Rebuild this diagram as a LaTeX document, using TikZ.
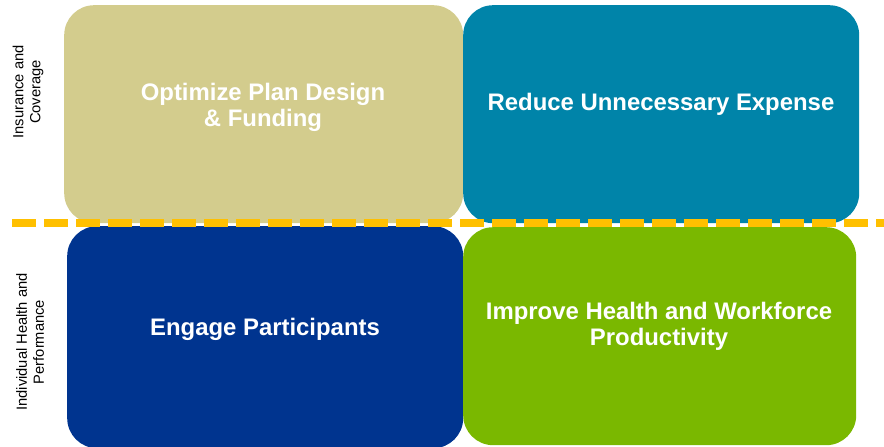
\documentclass[tikz,border=0pt]{standalone}
\usepackage{fontspec}
\setmainfont{Liberation Sans}
\definecolor{qtan}{HTML}{D3CC8D}
\definecolor{qteal}{HTML}{0084A9}
\definecolor{qblue}{HTML}{00348F}
\definecolor{qgreen}{HTML}{7AB800}
\definecolor{qdash}{HTML}{FFC000}
\begin{document}
\begin{tikzpicture}[x=1pt,y=-1pt,
  quad/.style={draw=none, rounded corners=30pt, inner sep=0pt, anchor=north west},
  qtext/.style={text=white, font=\fontsize{23.9}{26}\selectfont\bfseries, align=center, inner sep=0pt},
  side/.style={text=black, font=\fontsize{14.7}{17}\selectfont, align=center, rotate=90, inner sep=0pt},
  dashline/.style={draw=qdash, line width=7.5pt, dash pattern=on 24pt off 8pt}]
\useasboundingbox (0,0) rectangle (884,447);
\node[quad, fill=qtan, minimum width=399pt, minimum height=218pt] (tl) at (64,5) {};
\node[quad, fill=qteal, minimum width=396pt, minimum height=218pt] (tr) at (463,5) {};
\node[quad, fill=qblue, minimum width=396pt, minimum height=222pt] (bl) at (67,226) {};
\node[quad, fill=qgreen, minimum width=393pt, minimum height=218pt] (br) at (463,227) {};
\coordinate (dstart) at (12,223);
\coordinate (dend) at (884,223);
\draw[dashline] (dstart) -- (dend);
\node[qtext] (tltext) at (263,107) {Optimize Plan Design\\\& Funding};
\node[qtext] (trtext) at (661,104) {Reduce Unnecessary Expense};
\node[qtext] (bltext) at (265,329) {Engage Participants};
\node[qtext] (brtext) at (659,326) {Improve Health and Workforce\\Productivity};
\node[side] (ins) at (28,92) {Insurance and\\Coverage};
\node[side] (ind) at (30,342) {Individual Health and\\Performance};
\end{tikzpicture}
\end{document}
